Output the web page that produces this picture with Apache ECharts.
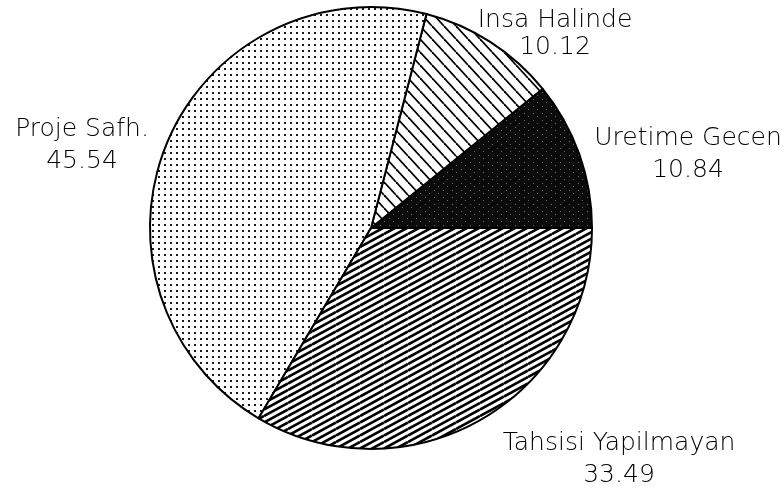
<!DOCTYPE html>
<html>
<head>
<meta charset="utf-8">
<script src="https://cdn.jsdelivr.net/npm/echarts@6/dist/echarts.min.js"></script>
<style>
  html, body { margin: 0; padding: 0; background: #fff; }
  #chart { width: 784px; height: 494px; }
</style>
</head>
<body>
<div id="chart"></div>
<script>
// Slice names and shares (percent), counter-clockwise from 3 o'clock
const categories = ['Uretime Gecen', 'Insa Halinde', 'Proje Safh.', 'Tahsisi Yapilmayan'];
const shares = [10.84, 10.12, 45.54, 33.49];

// ---- hatch fills drawn on small tiling canvases ----
function tile(w, h, draw) {
  const c = document.createElement('canvas');
  c.width = w; c.height = h;
  const ctx = c.getContext('2d');
  ctx.fillStyle = '#fff';
  ctx.fillRect(0, 0, w, h);
  draw(ctx, w, h);
  return { image: c, repeat: 'repeat' };
}

// near-solid black with faint specks
const fillBlack = tile(9, 7, (ctx, w, h) => {
  ctx.fillStyle = '#0b0b0b';
  ctx.fillRect(0, 0, w, h);
  ctx.fillStyle = '#6a6a6a';
  ctx.fillRect(2, 1, 1, 1);
  ctx.fillRect(6, 4, 1, 1);
});

// sparse lines falling to the right
const fillBackslash = tile(12, 13, (ctx, w, h) => {
  ctx.strokeStyle = '#000';
  ctx.lineWidth = 1.7;
  for (let k = -1; k <= 1; k++) {
    ctx.beginPath();
    ctx.moveTo(k * w, 0);
    ctx.lineTo(k * w + w, h);
    ctx.stroke();
  }
});

// fine dot screen
const fillDots = tile(6, 6, (ctx) => {
  ctx.fillStyle = '#1a1a1a';
  ctx.fillRect(2, 2, 2, 2);
});

// dense lines rising to the right
const fillSlash = tile(24, 13, (ctx, w, h) => {
  ctx.strokeStyle = '#000';
  ctx.lineWidth = 2.6;
  for (let k = -2; k <= 2; k++) {
    const off = k * h / 2;
    ctx.beginPath();
    ctx.moveTo(0, h + off);
    ctx.lineTo(w, off);
    ctx.stroke();
  }
});

const fills = [fillBlack, fillBackslash, fillDots, fillSlash];

// label anchor points (centre of each two-line label)
const labelSpots = [
  { x: 688, y: 154 },
  { x: 555, y: 34 },
  { x: 82, y: 145 },
  { x: 619, y: 459 }
];

const chart = echarts.init(document.getElementById('chart'), null, { renderer: 'canvas' });

chart.setOption({
  backgroundColor: '#ffffff',
  animation: false,
  series: [{
    type: 'pie',
    center: [371, 228],
    radius: [0, 221],
    startAngle: 0,
    clockwise: false,
    avoidLabelOverlap: false,
    data: categories.map((name, i) => ({
      name: name,
      value: shares[i],
      itemStyle: { color: fills[i] },
      label: i === 1 ? { lineHeight: 27 } : {}
    })),
    itemStyle: {
      borderColor: '#000',
      borderWidth: 2
    },
    emphasis: { disabled: true },
    label: {
      show: true,
      position: 'outside',
      formatter: (p) => p.name + '\n' + p.value.toFixed(2),
      color: '#000',
      fontFamily: 'DejaVu Sans',
      fontWeight: 200,
      fontSize: 25,
      lineHeight: 32,
      align: 'center',
      verticalAlign: 'middle'
    },
    labelLine: { show: false },
    labelLayout: (params) => {
      const s = labelSpots[params.dataIndex];
      return { x: s.x, y: s.y, align: 'center', verticalAlign: 'middle' };
    }
  }]
});
</script>
</body>
</html>
